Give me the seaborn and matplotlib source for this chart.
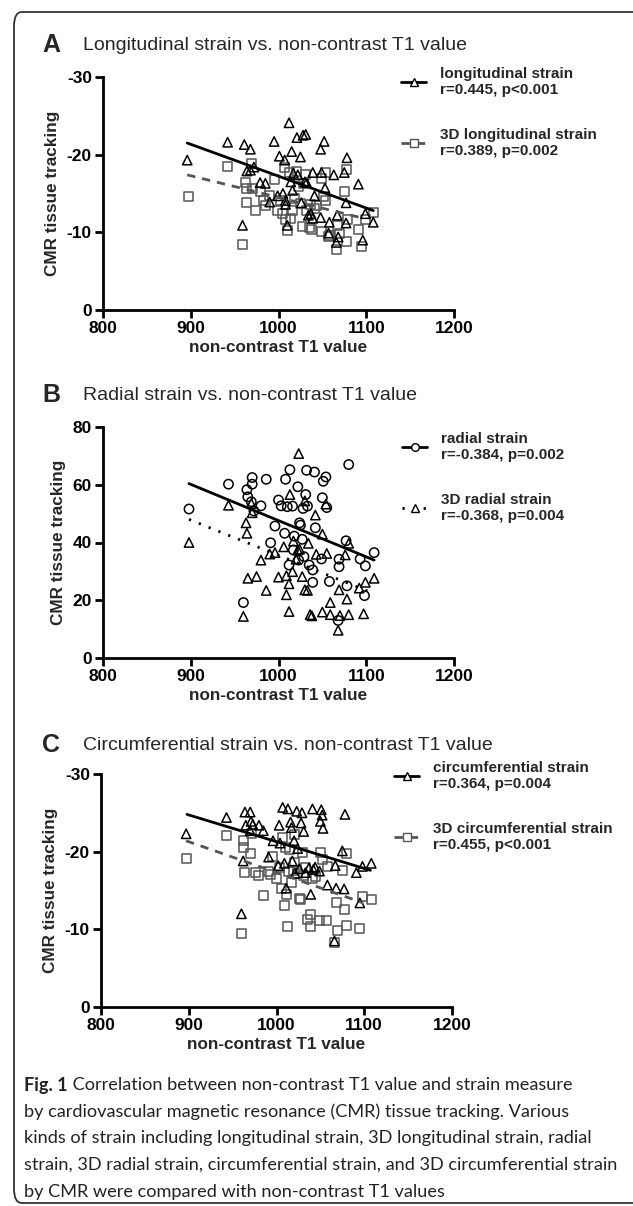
import numpy as np
import pandas as pd
import matplotlib
matplotlib.use("Agg")
import matplotlib.pyplot as plt
from matplotlib.lines import Line2D
from matplotlib.patches import FancyBboxPatch
import seaborn as sb

# ---- data ----
# A: longitudinal strain (triangles) / 3D longitudinal strain (squares)
long_t1 = [896, 942, 959, 961, 964, 968, 968, 972, 979, 985, 990, 995, 999, 1001, 1005, 1007, 1008, 1008, 1010, 1012,
           1014, 1015, 1016, 1017, 1021, 1022, 1025, 1026, 1028, 1031, 1030, 1032, 1034, 1037, 1039, 1039, 1041, 1048,
           1049, 1048, 1052, 1053, 1058, 1057, 1063, 1067, 1066, 1068, 1075, 1077, 1077, 1078, 1091, 1096, 1099, 1108]
long_val = [-19.3, -21.6, -10.9, -21.3, -17.9, -20.7, -18.0, -18.4, -16.4, -16.3, -13.9, -21.7, -14.7, -19.8, -15.0,
            -19.3, -14.1, -13.6, -10.9, -24.1, -16.5, -20.4, -15.4, -17.6, -22.2, -17.4, -19.7, -13.8, -22.5, -22.6,
            -16.5, -16.4, -12.2, -12.4, -17.7, -11.8, -14.7, -20.7, -17.7, -11.9, -21.7, -15.7, -11.3, -9.9, -17.4,
            -12.2, -8.7, -9.4, -17.7, -13.8, -11.2, -19.6, -16.2, -9.0, -12.4, -11.3]
long3d_t1 = [897, 942, 959, 962, 964, 964, 969, 970, 974, 979, 985, 990, 995, 999, 1002, 1007, 1008, 1010, 1012, 1014,
             1016, 1021, 1023, 1025, 1027, 1028, 1031, 1032, 1035, 1038, 1041, 1049, 1049, 1053, 1053, 1057, 1066, 1067,
             1069, 1075, 1077, 1078, 1091, 1095, 1099, 1108, 983, 1005, 1018, 1043, 1058, 1079, 1036, 1051]
long3d_val = [-14.6, -18.5, -8.4, -16.4, -13.8, -15.6, -18.9, -15.6, -12.8, -15.3, -13.4, -14.8, -16.8, -12.8, -14.1,
              -18.4, -11.7, -10.3, -17.7, -11.8, -12.8, -17.8, -15.9, -13.7, -10.8, -16.3, -17.4, -12.8, -10.6, -10.4,
              -13.1, -10.1, -16.9, -17.7, -14.1, -9.4, -7.8, -10.9, -9.9, -15.3, -18.1, -8.8, -10.4, -8.2, -11.6,
              -12.5, -14.1, -12.4, -14.4, -13.4, -9.6, -11.7, -13.6, -14.6]
long_fit_x = [896, 1108]
long_fit_y = [-21.5, -12.8]
long3d_fit_x = [896, 1097]
long3d_fit_y = [-17.4, -11.8]

# B: radial strain (circles) / 3D radial strain (triangles)
rad_t1 = [898, 943, 960, 964, 965, 970, 970, 969, 972, 980, 986, 991, 996, 1000, 1003, 1007, 1008, 1010, 1013, 1016,
          1017, 1018, 1022, 1024, 1025, 1027, 1028, 1029, 1031, 1033, 1032, 1035, 1039, 1039, 1041, 1042, 1049, 1050,
          1051, 1054, 1055, 1058, 1069, 1069, 1068, 1077, 1078, 1080, 1093, 1098, 1099, 1109, 1023, 1012]
rad_val = [51.6, 60.2, 19.2, 58.3, 55.8, 60.2, 62.5, 54.1, 50.9, 52.7, 61.9, 39.9, 45.7, 54.7, 52.7, 43.2, 61.9, 52.4,
           65.2, 52.6, 37.4, 42.2, 59.3, 46.8, 46.0, 41.1, 51.8, 35.1, 56.6, 52.6, 65.0, 32.2, 30.5, 26.2, 64.4, 45.1,
           34.3, 55.5, 61.2, 62.7, 52.1, 26.5, 31.6, 34.2, 13.0, 40.6, 25.0, 67.0, 34.3, 21.6, 31.9, 36.5, 33.9, 32.2]
rad3d_t1 = [898, 943, 960, 963, 964, 965, 970, 969, 975, 980, 986, 990, 996, 1000, 1006, 1009, 1009, 1012, 1012, 1013,
            1016, 1017, 1020, 1022, 1024, 1023, 1027, 1030, 1033, 1034, 1036, 1038, 1042, 1043, 1050, 1050, 1054, 1055,
            1059, 1059, 1068, 1069, 1070, 1076, 1078, 1080, 1080, 1092, 1097, 1099, 1109, 1030]
rad3d_val = [40.0, 52.9, 14.4, 46.8, 43.2, 27.6, 50.3, 53.5, 28.2, 33.9, 23.4, 36.0, 36.5, 28.0, 38.5, 28.5, 21.9,
             25.7, 16.1, 56.6, 29.9, 40.5, 34.2, 37.4, 37.7, 70.8, 28.2, 23.6, 23.4, 39.7, 15.0, 14.6, 49.5, 35.9,
             42.9, 15.9, 53.3, 36.2, 19.2, 15.0, 9.6, 23.6, 14.7, 35.7, 20.4, 39.7, 15.0, 24.2, 15.3, 26.2, 27.6, 54.4]
rad_fit_x = [898, 1109]
rad_fit_y = [60.4, 33.9]
rad3d_fit_x = [898, 1108]
rad3d_fit_y = [48.0, 22.4]

# C: circumferential strain (triangles) / 3D circumferential strain (squares)
circ_t1 = [897, 943, 960, 962, 964, 965, 970, 971, 970, 973, 980, 985, 991, 996, 1003, 1004, 1007, 1009, 1011, 1013,
           1016, 1017, 1018, 1020, 1023, 1024, 1026, 1028, 1029, 1031, 1033, 1037, 1039, 1041, 1042, 1049, 1050, 1051,
           1052, 1053, 1058, 1067, 1066, 1068, 1075, 1077, 1078, 1091, 1095, 1098, 1108, 1002, 1044, 1021]
circ_val = [-22.3, -24.4, -12.0, -18.8, -25.1, -23.4, -25.1, -23.9, -22.7, -23.5, -23.4, -22.7, -19.3, -21.4, -23.4,
            -21.1, -25.7, -18.5, -15.3, -25.5, -23.8, -23.1, -18.8, -21.4, -25.2, -20.4, -17.8, -23.7, -25.0, -22.6,
            -17.3, -17.9, -14.5, -25.5, -17.7, -17.5, -23.9, -25.4, -24.7, -23.0, -15.7, -18.2, -8.5, -15.3, -20.1,
            -15.2, -24.8, -17.3, -13.4, -18.1, -18.5, -18.2, -18.0, -17.2]
circ3d_t1 = [897, 943, 960, 962, 962, 964, 970, 971, 976, 980, 985, 991, 996, 1000, 1006, 1009, 1011, 1007, 1012, 1015,
             1017, 1019, 1021, 1026, 1027, 1030, 1031, 1035, 1039, 1039, 1041, 1049, 1050, 1052, 1057, 1058, 1068,
             1069, 1066, 1075, 1077, 1080, 1080, 1095, 1098, 1108, 1003, 1014, 1024, 1033, 1045, 993, 1010, 1020]
circ3d_val = [-19.1, -22.1, -9.5, -21.5, -20.5, -17.3, -19.7, -22.4, -17.3, -16.9, -14.4, -17.4, -19.4, -16.6, -15.2,
              -13.1, -14.5, -21.8, -10.4, -20.3, -16.0, -17.6, -22.2, -14.0, -13.8, -19.9, -16.9, -11.3, -11.9, -10.4,
              -16.6, -11.2, -19.9, -19.0, -11.2, -18.1, -13.5, -9.8, -8.3, -17.6, -12.6, -19.7, -10.5, -10.1, -14.2,
              -13.9, -18.0, -17.5, -17.2, -17.9, -16.8, -17.0, -20.6, -18.6]
circ_fit_x = [898, 1107]
circ_fit_y = [-24.8, -17.6]
circ3d_fit_x = [897, 1099]
circ3d_fit_y = [-21.4, -13.4]

x_ticks = [800, 900, 1000, 1100, 1200]
titles = ["Longitudinal strain vs. non-contrast T1 value",
          "Radial strain vs. non-contrast T1 value",
          "Circumferential strain vs. non-contrast T1 value"]
caption_lines = ["Correlation between non-contrast T1 value and strain measure",
                 "by cardiovascular magnetic resonance (CMR) tissue tracking. Various",
                 "kinds of strain including longitudinal strain, 3D longitudinal strain, radial",
                 "strain, 3D radial strain, circumferential strain, and 3D circumferential strain",
                 "by CMR were compared with non-contrast T1 values"]

sb.set_style("ticks")
plt.rcParams['font.family'] = ['Liberation Sans', 'DejaVu Sans']
plt.rcParams['axes.unicode_minus'] = False

W, H = 633, 1206
fig = plt.figure(figsize=(W / 100, H / 100), dpi=100)

GREY = "#555555"


def fx(px):
    return px / W


def fy(py):
    return 1 - py / H


def styleAxes(ax, ylim, yticks):
    ax.set_xlim(800, 1200)
    ax.set_ylim(*ylim)
    ax.set_xticks(x_ticks)
    ax.set_yticks(yticks)
    for s in ["top", "right"]:
        ax.spines[s].set_visible(False)
    for s in ["left", "bottom"]:
        ax.spines[s].set_linewidth(2)
        ax.spines[s].set_color("black")
    ax.tick_params(width=2, length=6, direction="out", labelsize=12.5, colors="black", pad=2)
    for lab in ax.get_xticklabels() + ax.get_yticklabels():
        lab.set_fontweight("bold")
    ax.set_xlabel("non-contrast T1 value", fontsize=12.3, fontweight="bold", labelpad=3)
    ax.set_ylabel("CMR tissue tracking", fontsize=12.3, fontweight="bold", labelpad=5)


def scatter(ax, x, y, marker, edge, size):
    sb.scatterplot(x=x, y=y, marker=marker, color="none", edgecolor=edge, s=size,
                   linewidth=1.1, ax=ax, clip_on=False, zorder=3)


def fitLine(ax, x, y, color, ls):
    sb.lineplot(x=x, y=y, color=color, linewidth=2, linestyle=ls, ax=ax, zorder=4)


def legend(ax, entries, x0, ytop):
    handles = []
    labels = []
    for lab, color, ls, marker in entries:
        handles.append(Line2D([], [], color=color, lw=2, linestyle=ls, marker=marker,
                              markerfacecolor="white", markeredgecolor=color, markersize=5.5, markeredgewidth=1))
        labels.append(lab)
    ax.legend(handles, labels, loc="upper left", bbox_to_anchor=(fx(x0), fy(ytop)),
              bbox_transform=fig.transFigure, frameon=False, borderpad=0, borderaxespad=0,
              handlelength=1.65, handletextpad=0.9, labelspacing=2.0,
              prop={"weight": "bold", "size": 11})


# ---- panel A ----
axA = fig.add_axes([fx(103), fy(310), fx(351), 233 / H])
scatter(axA, long3d_t1, long3d_val, "s", GREY, 42)
scatter(axA, long_t1, long_val, "^", "black", 45)
fitLine(axA, long_fit_x, long_fit_y, "black", "-")
fitLine(axA, long3d_fit_x, long3d_fit_y, GREY, (0, (3, 2.5)))
styleAxes(axA, (0, -30), [-30, -20, -10, 0])
legend(axA, [("longitudinal strain\nr=0.445, p<0.001", "black", "-", "^"),
             ("3D longitudinal strain\nr=0.389, p=0.002", GREY, (0, (3, 2.5)), "s")], 401, 67)

# ---- panel B ----
axB = fig.add_axes([fx(103), fy(658), fx(351), 231 / H])
scatter(axB, rad_t1, rad_val, "o", "black", 45)
scatter(axB, rad3d_t1, rad3d_val, "^", "black", 45)
fitLine(axB, rad_fit_x, rad_fit_y, "black", "-")
fitLine(axB, rad3d_fit_x, rad3d_fit_y, "black", (0, (0.8, 3)))
styleAxes(axB, (0, 80), [0, 20, 40, 60, 80])
legend(axB, [("radial strain\nr=-0.384, p=0.002", "black", "-", "o"),
             ("3D radial strain\nr=-0.368, p=0.004", "black", (0, (0.8, 3)), "^")], 402, 432)

# ---- panel C ----
axC = fig.add_axes([fx(101), fy(1007), fx(351), 233 / H])
scatter(axC, circ3d_t1, circ3d_val, "s", GREY, 42)
scatter(axC, circ_t1, circ_val, "^", "black", 45)
fitLine(axC, circ_fit_x, circ_fit_y, "black", "-")
fitLine(axC, circ3d_fit_x, circ3d_fit_y, GREY, (0, (3, 2.5)))
styleAxes(axC, (0, -30), [-30, -20, -10, 0])
legend(axC, [("circumferential strain\nr=0.364, p=0.004", "black", "-", "^"),
             ("3D circumferential strain\nr=0.455, p<0.001", GREY, (0, (3, 2.5)), "s")], 394, 761)

# panel letters and titles
for letter, title, yc in zip(["A", "B", "C"], titles, [45, 395, 745]):
    fig.text(fx(42), fy(yc), letter, fontsize=18, fontweight="bold", va="center", ha="left")
    fig.text(fx(83), fy(yc), title, fontsize=14, va="center", ha="left")

# caption
capFont = ["Lato", "DejaVu Sans"]
capSize = 13.1
first = fig.text(fx(24), fy(1085), "Fig. 1", fontsize=capSize, fontweight="bold", family=capFont,
                 va="center", ha="left", color="#222222")
plt.annotate(" " + caption_lines[0], xy=(1, 0.5), xycoords=first, va="center", ha="left",
             fontsize=capSize, family=capFont, color="#222222", annotation_clip=False)
for i, line in enumerate(caption_lines[1:]):
    fig.text(fx(24), fy(1112 + 26.5 * i), line, fontsize=capSize, family=capFont,
             va="center", ha="left", color="#222222")

# rounded frame, cut at right edge
frame = FancyBboxPatch((fx(14), fy(1203)), 1.2, fy(12) - fy(1203),
                       boxstyle="round,pad=0,rounding_size=0.012", transform=fig.transFigure,
                       facecolor="none", edgecolor="#333333", linewidth=1.3)
fig.patches.append(frame)

fig.savefig("out.png", dpi=100)
